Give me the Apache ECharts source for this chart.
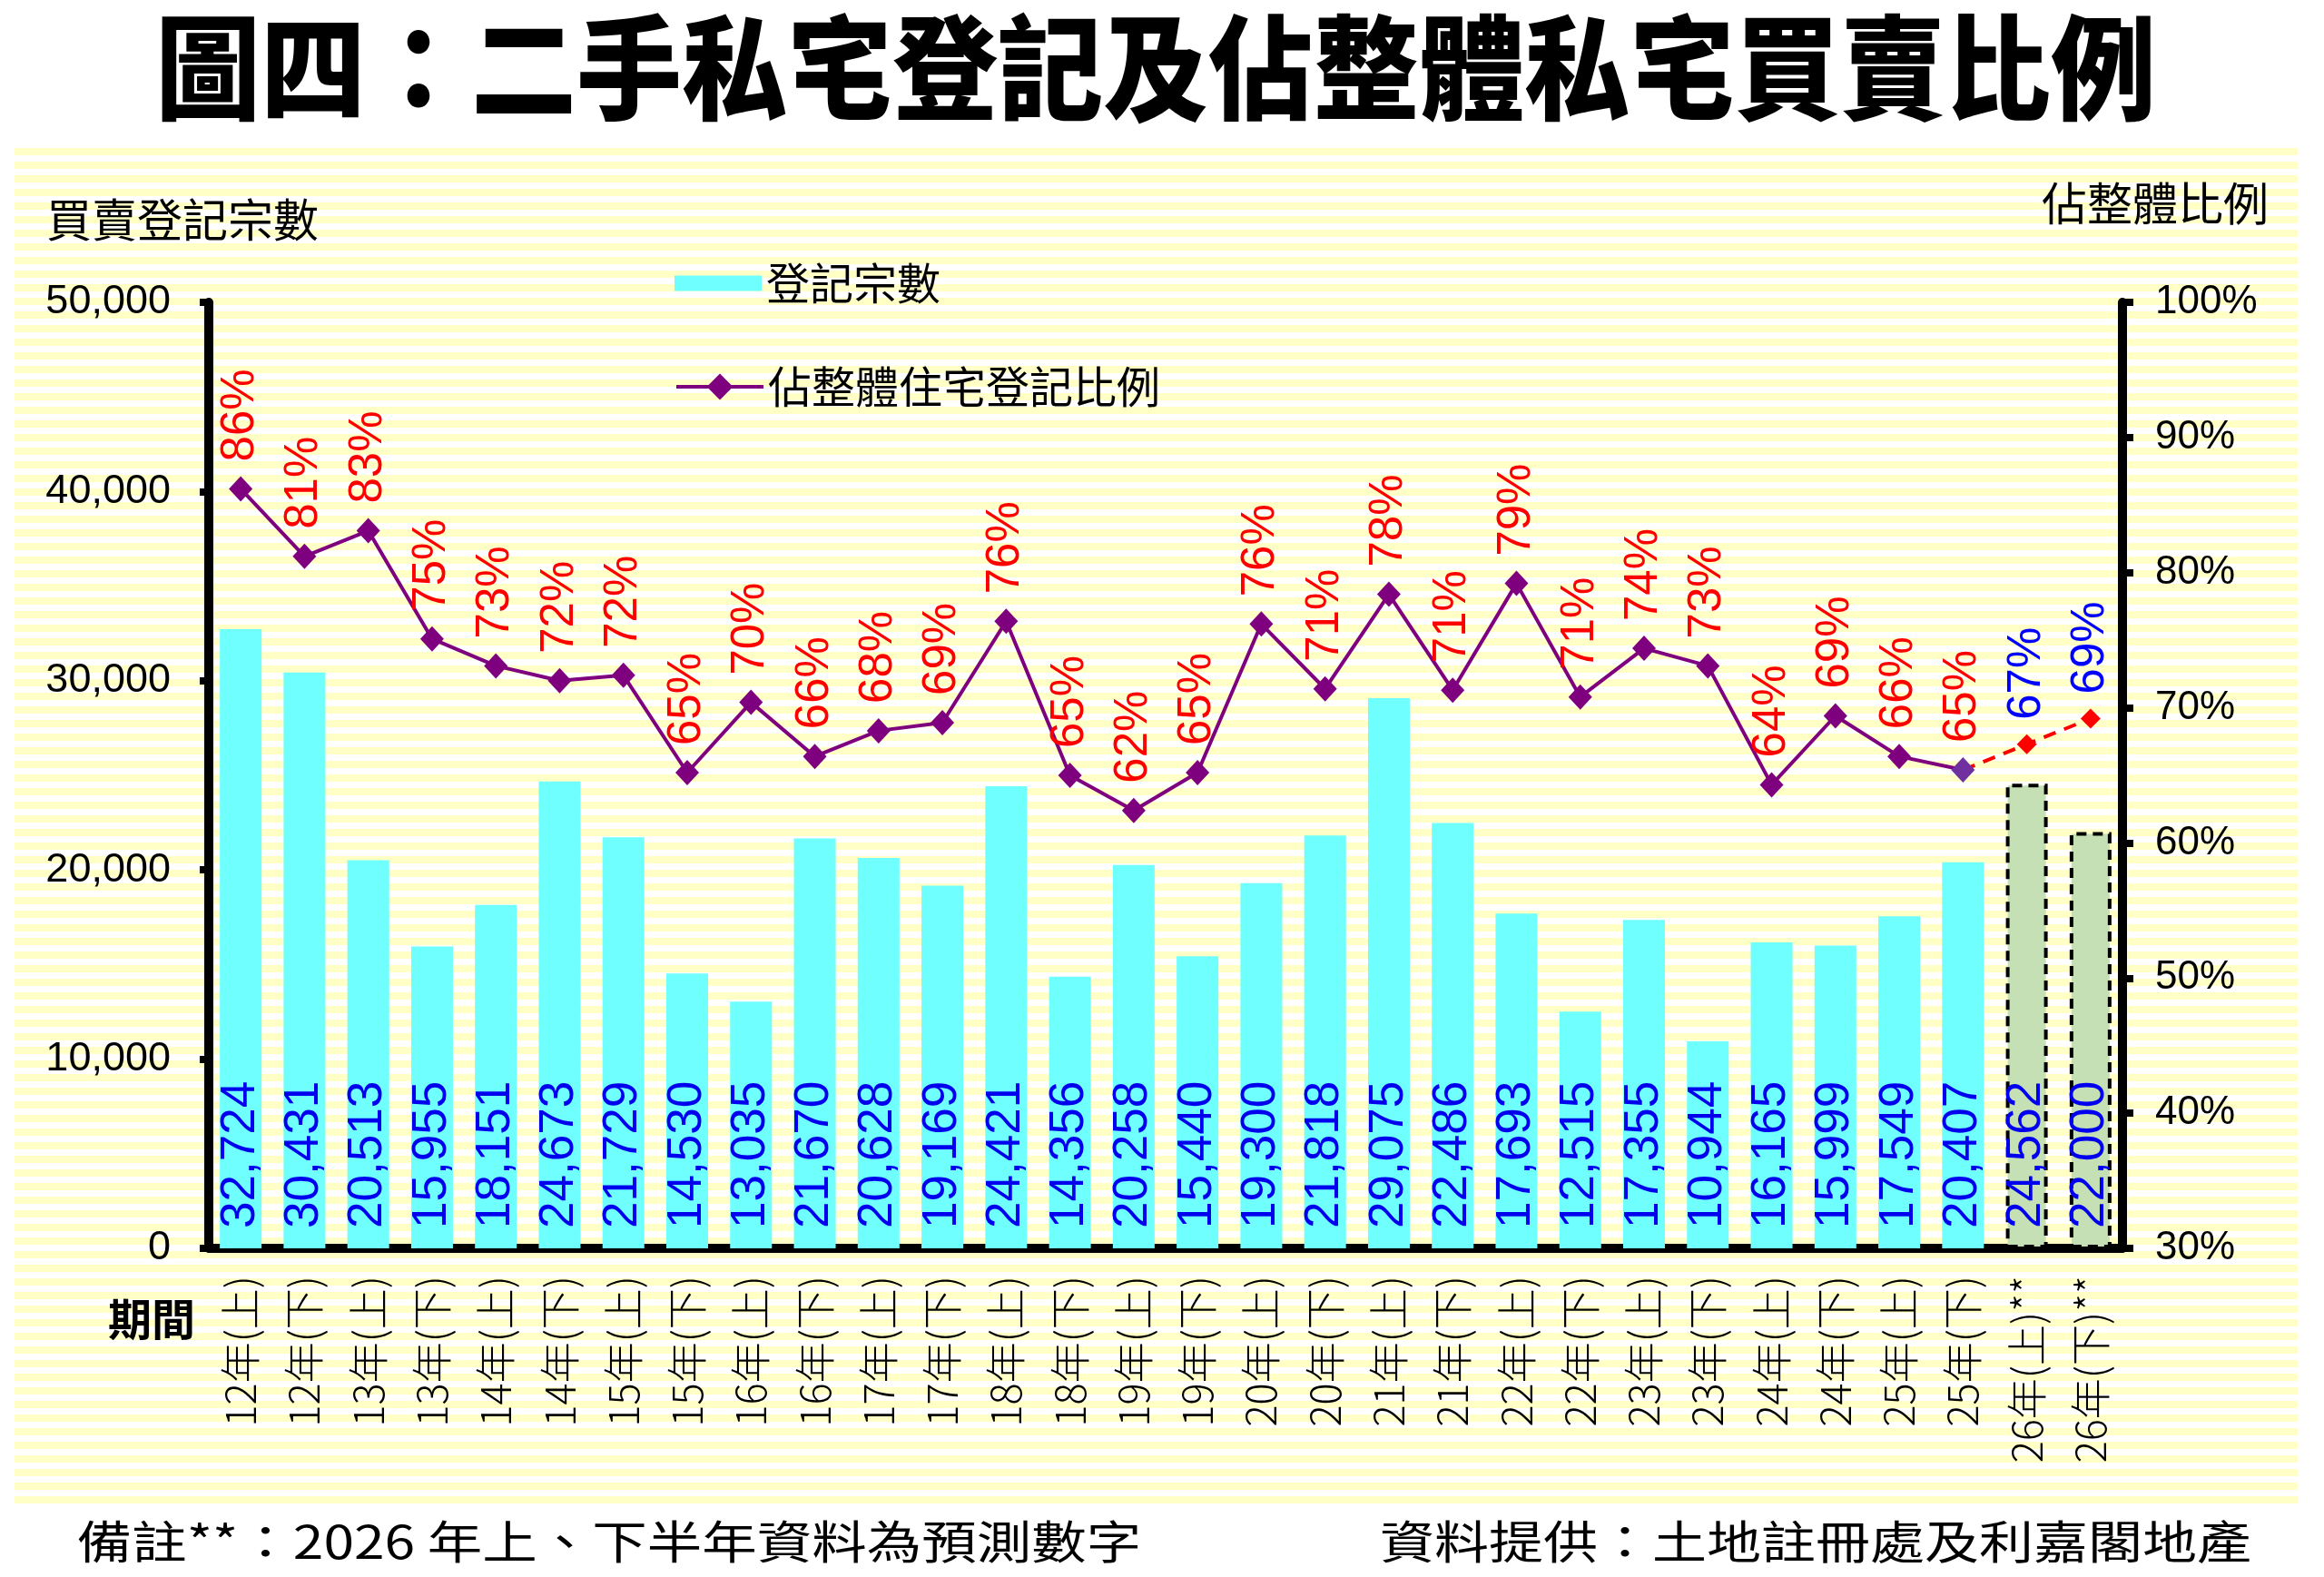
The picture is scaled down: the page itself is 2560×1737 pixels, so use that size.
<!DOCTYPE html>
<html>
<head>
<meta charset="utf-8">
<script src="https://cdn.jsdelivr.net/npm/echarts@6/dist/echarts.min.js"></script>
<style>
html,body{margin:0;padding:0;background:#fff;}
#chart{width:2560px;height:1737px;}
</style>
</head>
<body>
<div id="chart"></div>
<script>
// ---- data ----
const categories = ['12年(上)','12年(下)','13年(上)','13年(下)','14年(上)','14年(下)','15年(上)','15年(下)','16年(上)','16年(下)','17年(上)','17年(下)','18年(上)','18年(下)','19年(上)','19年(下)','20年(上)','20年(下)','21年(上)','21年(下)','22年(上)','22年(下)','23年(上)','23年(下)','24年(上)','24年(下)','25年(上)','25年(下)','26年(上)**','26年(下)**'];
const registrations = [32724,30431,20513,15955,18151,24673,21729,14530,13035,21670,20628,19169,24421,14356,20258,15440,19300,21818,29075,22486,17693,12515,17355,10944,16165,15999,17549,20407,24562,22000];
const ratios = [86.2,81.2,83.1,75.1,73.1,72.0,72.4,65.2,70.4,66.4,68.3,68.9,76.4,65.0,62.4,65.2,76.2,71.4,78.4,71.3,79.2,70.8,74.4,73.1,64.3,69.4,66.4,65.4,67.3,69.2];
const forecastStart = 28;
const leftTicks = {min:0, max:50000, interval:10000};
const rightTicks = {min:30, max:100, interval:10};
const titleText = '圖四：二手私宅登記及佔整體私宅買賣比例';
const leftAxisName = '買賣登記宗數';
const rightAxisName = '佔整體比例';
const xAxisName = '期間';
const barName = '登記宗數';
const lineName = '佔整體住宅登記比例';
const noteLeft = '備註**：2026 年上、下半年資料為預測數字';
const noteRight = '資料提供：土地註冊處及利嘉閣地產';

// ---- build ----
const CJK = '"Noto Sans CJK TC","Noto Sans CJK SC",sans-serif';
const LAT = '"Liberation Sans",Arial,sans-serif';

const barData = registrations.map((v,i)=> i>=forecastStart ? {
  value:v,
  itemStyle:{color:'#C5E0B4',borderColor:'#000',borderWidth:4,borderType:[11,7]}
} : v);

const actualLine = ratios.map((v,i)=> i<forecastStart ? (i===forecastStart-1 ? {value:v,itemStyle:{color:'#7030A0'}} : v) : '-');
const forecastLine = ratios.map((v,i)=> i>=forecastStart-1 ? (i===forecastStart-1 ? {value:v,symbol:'none',label:{show:false}} : v) : '-');

// stripes
const stripes = [];
const bgX=16, bgY=163, bgW=2515, bgH=1494, period=15;
stripes.push({type:'rect',shape:{x:bgX,y:bgY,width:bgW,height:bgH},style:{fill:'#ffffff'},z:-101,silent:true});
for(let y=bgY; y<bgY+bgH; y+=period){
  const h=Math.min(8, bgY+bgH-y);
  stripes.push({type:'rect',shape:{x:bgX,y:y,width:bgW,height:h},style:{fill:'#FFFFC6'},z:-100,silent:true});
}

function txt(text,x,y,size,opts){
  opts=opts||{};
  return {type:'text',x:x,y:y,z:10,silent:true,scaleX:opts.sx||1,scaleY:opts.sy||1,style:{
    text:text,fontSize:size,fontFamily:opts.family||CJK,fontWeight:opts.weight||'normal',
    fill:opts.color||'#000',align:opts.align||'center',textAlign:opts.align||'center',
    verticalAlign:'middle',textVerticalAlign:'middle'}};
}

const chart = echarts.init(document.getElementById('chart'));
chart.setOption({
  backgroundColor:'#ffffff',
  animation:false,
  graphic:{elements:[
    ...stripes,
    txt(titleText,1273,74,116,{weight:900,sy:1.08}),
    txt(leftAxisName,201,242,50),
    txt(rightAxisName,2374,224,50),
    txt(xAxisName,167,1453,48,{weight:'bold'}),
    txt(noteLeft,671,1698,50,{sx:1.21}),
    txt(noteRight,2000,1698,50,{sx:1.2})
  ]},
  legend:[{
    orient:'vertical',left:738,top:283,itemWidth:96,itemHeight:17,
    textStyle:{fontSize:48,fontFamily:CJK,color:'#000'},
    data:[{name:barName,icon:'rect'}]
  },{
    orient:'vertical',left:738,top:397,itemWidth:96,itemHeight:36,
    textStyle:{fontSize:48,fontFamily:CJK,color:'#000'},
    lineStyle:{width:4},
    data:[{name:lineName}]
  }],
  grid:{left:230,right:222,top:333,bottom:362,containLabel:false},
  xAxis:{
    type:'category',data:categories,
    axisLine:{show:true,lineStyle:{color:'#000',width:10}},
    axisTick:{show:false},
    axisLabel:{rotate:90,fontSize:45,fontFamily:CJK,fontWeight:300,color:'#000',margin:30,interval:0}
  },
  yAxis:[{
    type:'value',min:leftTicks.min,max:leftTicks.max,interval:leftTicks.interval,position:'left',
    axisLine:{show:true,lineStyle:{color:'#000',width:10}},
    axisTick:{show:true,inside:false,length:10,lineStyle:{color:'#000',width:8}},
    splitLine:{show:false},
    axisLabel:{fontSize:45,fontFamily:LAT,color:'#000',margin:42,
      formatter:v=>v.toLocaleString('en-US')}
  },{
    type:'value',min:rightTicks.min,max:rightTicks.max,interval:rightTicks.interval,position:'right',
    axisLine:{show:true,lineStyle:{color:'#000',width:10}},
    axisTick:{show:true,inside:false,length:12,lineStyle:{color:'#000',width:8}},
    splitLine:{show:false},
    axisLabel:{fontSize:44,fontFamily:LAT,color:'#000',margin:36,formatter:v=>v+'%'}
  }],
  series:[{
    name:barName,type:'bar',data:barData,barWidth:46,
    itemStyle:{color:'#6FFFFF'},
    label:{show:true,position:'insideBottom',rotate:90,align:'left',verticalAlign:'middle',distance:22,
      fontSize:53,fontFamily:LAT,color:'#0000EE',formatter:p=>p.value.toLocaleString('en-US')},
    z:2
  },{
    name:lineName,type:'line',yAxisIndex:1,data:actualLine,
    lineStyle:{color:'#7F007F',width:4},itemStyle:{color:'#7F007F'},
    symbol:'diamond',symbolSize:[26,28],
    label:{show:true,position:'top',rotate:90,align:'left',verticalAlign:'middle',distance:16,
      fontSize:51,fontFamily:LAT,color:'#FF0000',formatter:p=>Math.round(p.value)+'%'},
    z:5
  },{
    name:'預測',type:'line',yAxisIndex:1,data:forecastLine,
    lineStyle:{color:'#FF0000',width:4,type:[14,10]},itemStyle:{color:'#FF0000'},
    symbol:'diamond',symbolSize:[22,22],
    label:{show:true,position:'top',rotate:90,align:'left',verticalAlign:'middle',distance:16,
      fontSize:51,fontFamily:LAT,color:'#0000FF',formatter:p=>Math.round(p.value)+'%'},
    z:5
  }]
});
</script>
</body>
</html>
